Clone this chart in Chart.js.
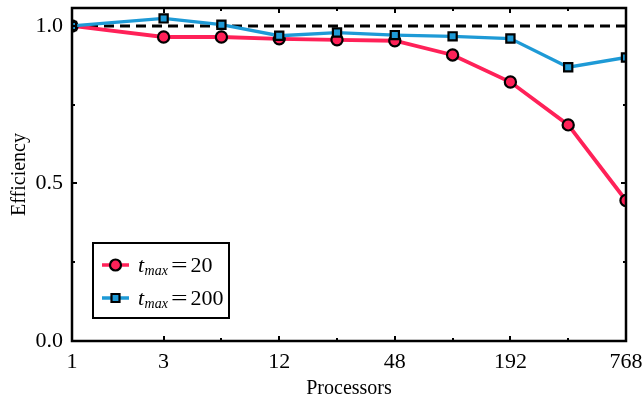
<!DOCTYPE html>
<html>
<head>
<meta charset="utf-8">
<script src="https://cdn.jsdelivr.net/npm/chart.js@4"></script>
<style>
  html, body { margin: 0; padding: 0; background: #ffffff; }
  #wrap { width: 644px; height: 395px; position: relative; }
</style>
</head>
<body>
<div id="wrap"><canvas id="c" width="644" height="395"></canvas></div>
<script>
// ---- data ----
const processors = [1, 3, 6, 12, 24, 48, 96, 192, 384, 768];
const xTickLabels = [1, 3, 12, 48, 192, 768];
const yTickLabels = [0, 0.5, 1.0];
const effTmax20  = [1.0, 0.965, 0.965, 0.959, 0.956, 0.953, 0.908, 0.822, 0.686, 0.446];
const effTmax200 = [1.0, 1.024, 1.004, 0.969, 0.979, 0.971, 0.967, 0.960, 0.869, 0.900];
const idealEff = [1.0, 1.0];
const seriesLabels = ['20', '200'];

const RED = '#FF2158';
const BLUE = '#1E9AD6';
const FONT = '"Liberation Serif", "Times New Roman", serif';

const toPts = (ys) => ys.map((y, i) => ({ x: processors[i], y }));

const minorX = [6, 24, 96, 384];
const minorY = [0.25, 0.75];

const framePlugin = {
  id: 'frame',
  afterDatasetsDraw(chart) {
    const { ctx, chartArea: a, scales: { x, y } } = chart;
    ctx.save();
    ctx.strokeStyle = '#000';
    // ticks
    ctx.lineWidth = 2;
    ctx.beginPath();
    processors.forEach(v => {
      if (v === 1 || v === 768) return;
      const px = Math.round(x.getPixelForValue(v));
      const len = minorX.includes(v) ? 3 : 5;
      ctx.moveTo(px, a.bottom); ctx.lineTo(px, a.bottom - len);
      ctx.moveTo(px, a.top); ctx.lineTo(px, a.top + len);
    });
    [0.25, 0.5, 0.75, 1.0].forEach(v => {
      const py = Math.round(y.getPixelForValue(v));
      const len = minorY.includes(v) ? 3 : 5;
      ctx.moveTo(a.left, py); ctx.lineTo(a.left + len, py);
      ctx.moveTo(a.right, py); ctx.lineTo(a.right - len, py);
    });
    ctx.stroke();
    // frame
    ctx.lineWidth = 2.5;
    ctx.strokeRect(a.left, a.top, a.right - a.left, a.bottom - a.top);

    // legend
    const bx = 93, by = 243, bw = 136, bh = 75;
    ctx.fillStyle = '#fff';
    ctx.fillRect(bx, by, bw, bh);
    ctx.lineWidth = 2;
    ctx.strokeRect(bx, by, bw, bh);
    const entries = [
      { color: RED, style: 'circle', y: 265, label: seriesLabels[0] },
      { color: BLUE, style: 'rect', y: 298, label: seriesLabels[1] }
    ];
    entries.forEach(e => {
      ctx.strokeStyle = e.color;
      ctx.lineWidth = 3.5;
      ctx.beginPath();
      ctx.moveTo(102, e.y); ctx.lineTo(129, e.y);
      ctx.stroke();
      ctx.fillStyle = e.color;
      ctx.strokeStyle = '#000';
      ctx.lineWidth = 2.2;
      ctx.beginPath();
      if (e.style === 'circle') {
        ctx.arc(115.5, e.y, 5.5, 0, Math.PI * 2);
      } else {
        ctx.rect(111.5, e.y - 4, 8, 8);
      }
      ctx.fill(); ctx.stroke();
      // text: t_max = value
      ctx.fillStyle = '#000';
      ctx.textBaseline = 'alphabetic';
      ctx.textAlign = 'left';
      const base = e.y + 7;
      let tx = 138;
      ctx.font = 'italic 22px ' + FONT;
      ctx.fillText('t', tx, base);
      tx += ctx.measureText('t').width + 0.5;
      ctx.font = 'italic 14px ' + FONT;
      ctx.fillText('max', tx, base + 3);
      tx += ctx.measureText('max').width + 3;
      ctx.font = '21px ' + FONT;
      ctx.save();
      ctx.translate(tx, base);
      ctx.scale(1.4, 1);
      ctx.fillText('=', 0, 0);
      ctx.restore();
      tx += ctx.measureText('=').width * 1.4 + 3;
      ctx.font = '22px ' + FONT;
      ctx.fillText(e.label, tx, base);
    });
    ctx.restore();
  }
};

new Chart(document.getElementById('c'), {
  type: 'line',
  data: {
    datasets: [
      {
        label: 't_max = 200',
        data: toPts(effTmax200),
        borderColor: BLUE,
        backgroundColor: BLUE,
        borderWidth: 3.3,
        pointStyle: 'rect',
        pointRadius: 5.8,
        pointBorderColor: '#000',
        pointBorderWidth: 2.2,
        pointBackgroundColor: BLUE,
        tension: 0,
        clip: 0,
        order: 1
      },
      {
        label: 't_max = 20',
        data: toPts(effTmax20),
        borderColor: RED,
        backgroundColor: RED,
        borderWidth: 3.8,
        pointStyle: 'circle',
        pointRadius: 5.6,
        pointBorderColor: '#000',
        pointBorderWidth: 2.2,
        pointBackgroundColor: RED,
        tension: 0,
        clip: 0,
        order: 2
      },
      {
        label: 'ideal',
        data: [{ x: processors[0], y: idealEff[0] }, { x: processors[processors.length - 1], y: idealEff[1] }],
        borderColor: '#000',
        borderWidth: 3,
        borderDash: [10, 6],
        pointRadius: 0,
        clip: 0,
        order: 3
      }
    ]
  },
  options: {
    responsive: false,
    animation: false,
    layout: { padding: { top: 8, right: 18, left: 0, bottom: 0 } },
    plugins: { legend: { display: false }, tooltip: { enabled: false } },
    scales: {
      x: {
        type: 'logarithmic',
        min: 1,
        max: 768,
        afterBuildTicks: (s) => { s.ticks = processors.map(v => ({ value: v })); },
        afterFit: (s) => { s.height = 54; s.paddingLeft = 0; s.paddingRight = 0; },
        grid: { display: false, drawTicks: false },
        border: { display: false },
        ticks: {
          autoSkip: false,
          maxRotation: 0,
          padding: 8,
          color: '#000',
          font: { family: FONT, size: 22 },
          callback: (v) => xTickLabels.includes(v) ? String(v) : ''
        },
        title: {
          display: true,
          text: 'Processors',
          color: '#000',
          padding: 0,
          font: { family: FONT, size: 20, lineHeight: 0.6 }
        }
      },
      y: {
        min: 0,
        max: 1.057,
        afterBuildTicks: (s) => { s.ticks = [0, 0.25, 0.5, 0.75, 1.0].map(v => ({ value: v })); },
        afterFit: (s) => { s.width = 72; s.paddingTop = 0; s.paddingBottom = 0; },
        grid: { display: false, drawTicks: false },
        border: { display: false },
        ticks: {
          padding: 9,
          color: '#000',
          font: { family: FONT, size: 22 },
          callback: (v) => yTickLabels.some(t => Math.abs(t - v) < 1e-9) ? v.toFixed(1) : ''
        },
        title: {
          display: true,
          text: 'Efficiency',
          color: '#000',
          padding: 0,
          font: { family: FONT, size: 20, lineHeight: 2 }
        }
      }
    }
  },
  plugins: [framePlugin]
});
</script>
</body>
</html>
